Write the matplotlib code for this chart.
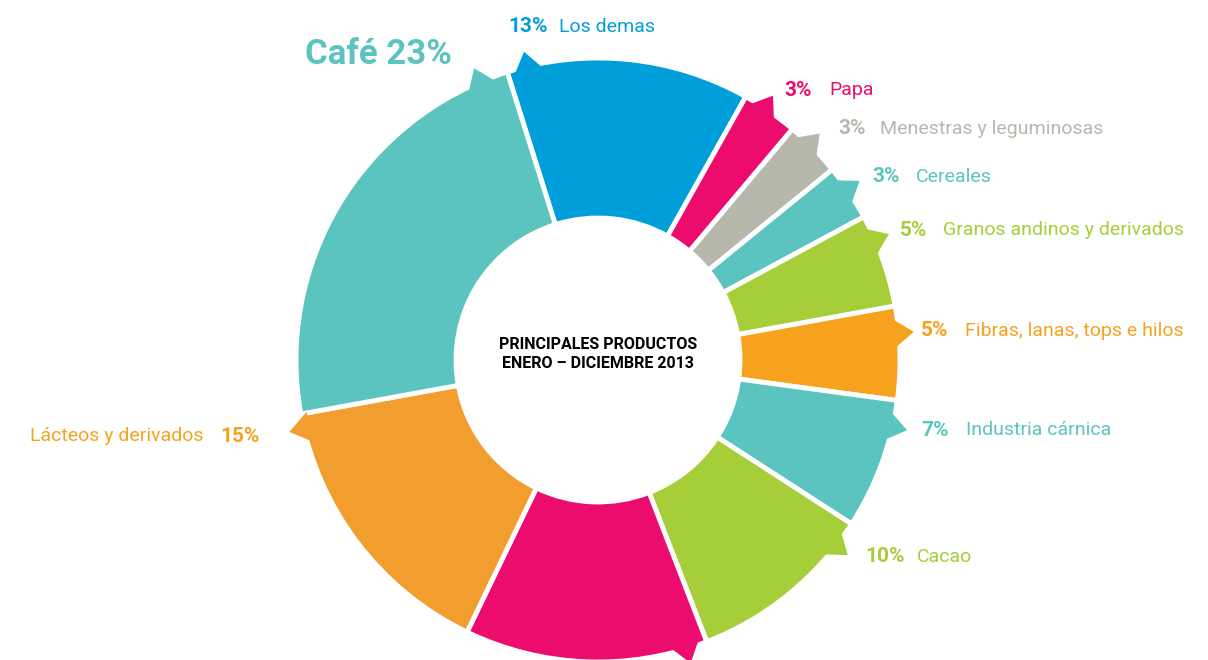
import matplotlib
matplotlib.use('Agg')
import matplotlib.pyplot as plt
from matplotlib.patches import Polygon
import numpy as np

# datos (orden horario desde "Los demas")
productos = ['Los demas', 'Papa', 'Menestras y leguminosas', 'Cereales',
             'Granos andinos y derivados', 'Fibras, lanas, tops e hilos',
             'Industria cárnica', 'Cacao', '', 'Lácteos y derivados', 'Café']
porcentajes = [13, 3, 3, 3, 5, 5, 7, 10, 13, 15, 23]
colores = ['#009FDA', '#EC0C6E', '#B6B8AC', '#5CC4BE', '#A6CE39', '#F7A21E',
           '#5CC4BE', '#A6CE39', '#EC0C6E', '#F29E2F', '#5CC4BE']
colores_texto = ['#009FDA', '#EC0C6E', '#B6B8AC', '#5CC4BE', '#A6CE39', '#F7A21E',
                 '#5CC4BE', '#A6CE39', '#EC0C6E', '#F7A21E', '#5CC4BE']

# posiciones de etiquetas en pixeles: (x porcentaje, x nombre, y)
pos_etiquetas = [(508, 559, 27), (784, 829, 90), (838, 880, 129), (872, 916, 177),
                 (900, 943, 230), (921, 965, 331), (921, 966, 430), (865, 917, 557),
                 None, (220, 30, 436), None]
# lengueta: (al final del sector?, desplazamiento en grados)
lenguetas = [(False, 4.0), (False, 4.2), (False, 4.3), (False, 4.7), (False, 4.9),
             (False, 5.2), (False, 5.1), (False, 5.1), (False, 4.1), (True, 2.8), (True, 5.5)]

W, H = 1208, 660
cx, cy = 598, H - 360
r_ext, r_int = 302, 142

fig = plt.figure(figsize=(W / 100, H / 100), dpi=100)
ax = fig.add_axes([0, 0, 1, 1])

wedges, _ = ax.pie(porcentajes, colors=colores, radius=r_ext, center=(cx, cy),
                   startangle=107.5, counterclock=False,
                   wedgeprops=dict(width=r_ext - r_int, edgecolor='white', linewidth=3.5))

# pequeñas lenguetas en el borde exterior
for w, col, (al_final, off) in zip(wedges, colores, lenguetas):
    tip = w.theta1 + off if al_final else w.theta2 - off
    angs = np.radians([tip - 3.0, tip, tip + 3.0])
    rads = [r_ext - 6, r_ext + 15, r_ext - 6]
    pts = [(cx + r * np.cos(a), cy + r * np.sin(a)) for r, a in zip(rads, angs)]
    ax.add_patch(Polygon(pts, closed=True, facecolor=col, edgecolor='none', zorder=2))

fuente = 'Roboto'
for nombre, pct, col, pos in zip(productos, porcentajes, colores_texto, pos_etiquetas):
    if pos is None:
        continue
    xp, xn, y = pos
    ax.text(xp, H - y, f'{pct}%', color=col, fontsize=15, fontweight='bold',
            family=fuente, ha='left', va='center')
    ax.text(xn, H - y, nombre, color=col, fontsize=14, family=fuente,
            ha='left', va='center')

# etiqueta destacada de Café
ax.text(305, H - 55, f'{productos[-1]} {porcentajes[-1]}%', color=colores_texto[-1],
        fontsize=25, fontweight='bold', family=fuente, ha='left', va='center')

ax.text(cx, cy + 6, 'PRINCIPALES PRODUCTOS\nENERO – DICIEMBRE 2013', color='black',
        fontsize=11.5, fontweight='bold', family=fuente, ha='center', va='center',
        linespacing=1.3)

ax.set_xlim(0, W)
ax.set_ylim(0, H)
ax.set_aspect('auto')
ax.axis('off')

fig.savefig('out.png', dpi=100, facecolor='white')
